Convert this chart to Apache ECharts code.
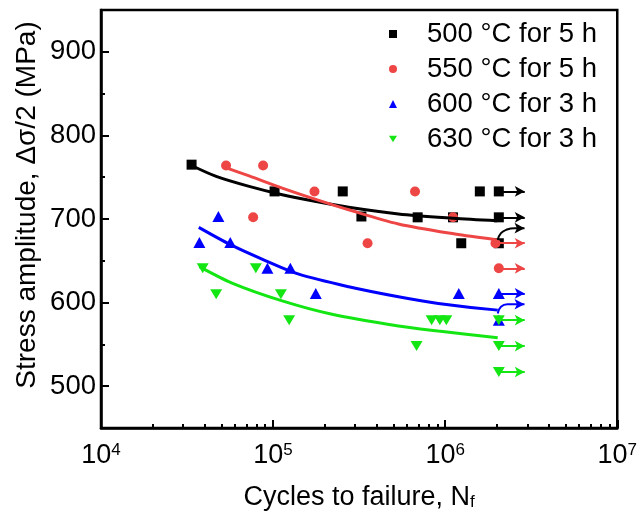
<!DOCTYPE html>
<html><head><meta charset="utf-8">
<script src="https://cdn.jsdelivr.net/npm/echarts@6/dist/echarts.min.js"></script>
<style>html,body{margin:0;padding:0;background:#fff}#c{width:640px;height:516px}</style>
</head><body><div id="c"></div><script>
// ---- data (N cycles, stress amplitude MPa) ----
const names = ['500 °C for 5 h', '550 °C for 5 h', '600 °C for 3 h', '630 °C for 3 h'];
const pts500 = [[33600,765],[102000,733],[254000,733],[326000,703],[692000,702],[1110000,702],[1240000,671],[1590000,733],[2050000,733],[2050000,702],[2050000,671]];
const pts550 = [[53300,764],[87500,764],[76600,702],[174000,733],[354000,671],[668000,733],[1110000,702],[1960000,671],[2050000,641]];
const pts600 = [[48100,703],[37300,672],[56400,672],[92700,641],[126000,641],[177000,611],[1200000,611],[2050000,611],[2050000,579]];
const pts630 = [[39000,641],[79400,641],[46700,610],[111000,610],[124000,579],[682000,548],[834000,579],[931000,579],[1016000,579],[2050000,579],[2050000,548],[2050000,517]];
// fitted curves
const fit500 = [[33600,764],[46700,751],[72600,739],[113000,729],[177000,721],[275000,714],[535000,706],[1110000,701],[2000000,698]];
const fit550 = [[52000,762],[72600,751.5],[113000,737],[177000,723.5],[275000,711],[535000,694],[1140000,682],[1940000,675.5]];
const fit600 = [[37000,690],[56900,669],[90800,650],[141000,634],[275000,619],[535000,607],[912000,599],[2020000,591]];
const fit630 = [[37300,643],[58200,623],[113000,602],[220000,586],[535000,572],[912000,566],[2020000,558]];
// run-out arrows
const run500 = [[2050000,733],[2050000,702]];
const run550 = [[1960000,671],[2050000,641]];
const run600 = [[2050000,611]];
const run630 = [[2050000,579],[2050000,548],[2050000,517]];
const arrowEndX = 2900000;
const curve500 = [[2020000,675],[2110000,683],[2260000,687],[2530000,689],[2890000,689]];
const curve600 = [[2020000,587],[2110000,595],[2300000,598],[2890000,598]];
// ticks
const xMajorTicks = [1e4,1e5,1e6,1e7];
const xMinorTicks = [2e4,3e4,4e4,5e4,6e4,7e4,8e4,9e4,2e5,3e5,4e5,5e5,6e5,7e5,8e5,9e5,2e6,3e6,4e6,5e6,6e6,7e6,8e6,9e6];
const yTicks = [500,600,700,800,900];
const yMinorTicks = [550,650,750,850];

const FONT = 'Liberation Sans, Arial, sans-serif';
const colors = ['#000000','#ee4545','#0000ff','#14e614'];
const downTri = 'path://M0,0 L12,0 L6,10 Z';

function scatter(name, data, color, symbol, size, runs) {
  return {
    type:'scatter', name, data, symbol, symbolSize:size, z:3,
    itemStyle:{color, opacity:1},
    markLine:{silent:true, animation:false, symbol:['none','arrow'], symbolSize:[8,10],
      label:{show:false}, lineStyle:{color, width:2, type:'solid'},
      data: runs.map(p => [{coord:[p[0],p[1]]},{coord:[arrowEndX,p[1]]}])}
  };
}
function fit(data, color) {
  return {type:'line', data, smooth:0.3, symbol:'none', silent:true, z:4,
    lineStyle:{color, width:3}};
}
function curvedArrow(data, color) {
  return {type:'line', smooth:true, silent:true, z:4, showSymbol:true, showAllSymbol:true,
    lineStyle:{color, width:2}, itemStyle:{color},
    data: data.map((p,i) => i === data.length-1
      ? {value:p, symbol:'arrow', symbolSize:[8,10], symbolRotate:-90}
      : {value:p, symbol:'none'})};
}

const chart = echarts.init(document.getElementById('c'));
chart.setOption({
  animation:false,
  backgroundColor:'#fff',
  grid:{left:101, right:20, top:10, bottom:88, show:true, borderColor:'#000', borderWidth:2.5},
  legend:{orient:'vertical', left:384, top:15, itemWidth:8, itemHeight:8, itemGap:7,
    selectedMode:false,
    textStyle:{fontSize:27.5, color:'#000', fontFamily:FONT, padding:[0,0,0,25]},
    data:[{name:names[0], icon:'rect'},{name:names[1], icon:'circle'},
          {name:names[2], icon:'triangle'},{name:names[3], icon:downTri}]},
  xAxis:[
    {type:'log', logBase:10, min:1e4, max:1e7, position:'bottom',
     axisLine:{show:true, lineStyle:{color:'#000', width:2.5}},
     axisTick:{show:true, inside:true, length:8, customValues:xMajorTicks, lineStyle:{color:'#000', width:2}},
     axisLabel:{customValues:xMajorTicks, color:'#000', fontSize:27, fontFamily:FONT, margin:14,
       formatter: v => '10{sup|' + Math.round(Math.log10(v)) + '}',
       rich:{sup:{fontSize:17, fontFamily:FONT, color:'#000', verticalAlign:'top'}}},
     splitLine:{show:false},
     name:'Cycles to failure, N{sub|f}', nameLocation:'middle', nameGap:56,
     nameTextStyle:{fontSize:27, color:'#000', fontFamily:FONT,
       rich:{sub:{fontSize:17, fontFamily:FONT, color:'#000', verticalAlign:'bottom'}}}},
    {type:'log', logBase:10, min:1e4, max:1e7, position:'bottom',
     axisLine:{show:false},
     axisTick:{show:true, inside:true, length:4, customValues:xMinorTicks, lineStyle:{color:'#000', width:2}},
     axisLabel:{show:false}, splitLine:{show:false}}
  ],
  yAxis:[
    {type:'value', min:450, max:950, position:'left',
     axisLine:{show:true, lineStyle:{color:'#000', width:2.5}},
     axisTick:{show:true, inside:true, length:8, customValues:yTicks, lineStyle:{color:'#000', width:2}},
     axisLabel:{customValues:yTicks, color:'#000', fontSize:27.5, fontFamily:FONT, margin:5},
     splitLine:{show:false}},
    {type:'value', min:450, max:950, position:'left',
     axisLine:{show:false},
     axisTick:{show:true, inside:true, length:4, customValues:yMinorTicks, lineStyle:{color:'#000', width:2}},
     axisLabel:{show:false}, splitLine:{show:false}}
  ],
  graphic:[{type:'text', x:27, y:205, rotation:Math.PI/2,
    style:{text:'Stress amplitude, Δσ/2 (MPa)', fill:'#000', font:'28px ' + FONT,
      align:'center', verticalAlign:'middle', textAlign:'center', textVerticalAlign:'middle'}}],
  series:[
    scatter(names[0], pts500, colors[0], 'rect', 10, run500),
    scatter(names[1], pts550, colors[1], 'circle', 10, run550),
    scatter(names[2], pts600, colors[2], 'triangle', [12,11], run600),
    scatter(names[3], pts630, colors[3], downTri, [12,10], run630),
    fit(fit500, colors[0]), fit(fit550, colors[1]), fit(fit600, colors[2]), fit(fit630, colors[3]),
    curvedArrow(curve500, colors[0]), curvedArrow(curve600, colors[2])
  ]
});
</script></body></html>
